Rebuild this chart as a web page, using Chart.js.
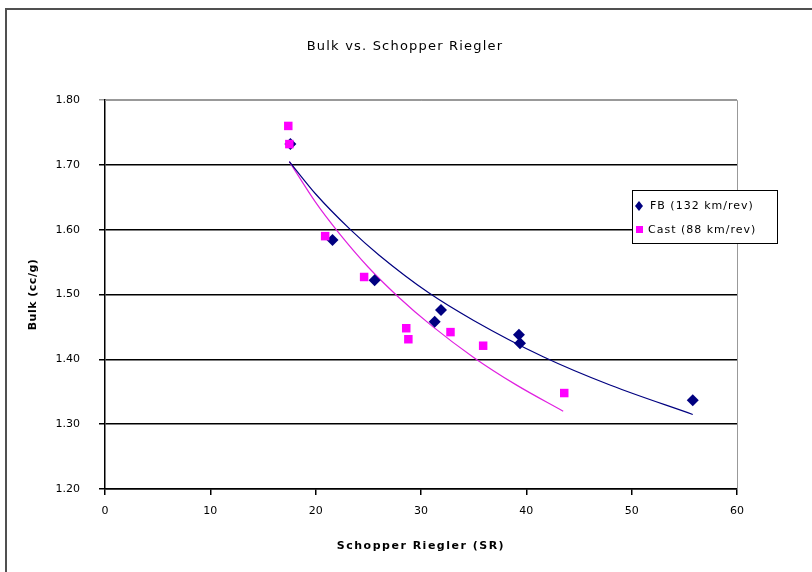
<!DOCTYPE html>
<html lang="en">
  <head>
    <meta charset="UTF-8" />
    <title>Bulk vs. Schopper Riegler</title>
    <script src="https://cdn.jsdelivr.net/npm/chart.js"></script>
    <style>
      html, body { margin: 0; padding: 0; background: #fff; }
      #wrap { width: 812px; height: 572px; }
    </style>
  </head>
  <body>
    <div id="wrap"><canvas id="bulkChart" width="812" height="572"></canvas></div>

    <script>
      // values
      const fbSR = [17.6, 21.6, 25.6, 31.3, 31.9, 39.3, 39.4, 55.8];
      const fbBulk = [1.732, 1.584, 1.522, 1.458, 1.476, 1.438, 1.425, 1.337];

      const castSR = [17.4, 17.5, 20.9, 24.6, 28.6, 28.8, 32.8, 35.9, 43.6];
      const castBulk = [1.76, 1.732, 1.59, 1.527, 1.448, 1.431, 1.442, 1.421, 1.348];

      // trend lines
      const fbTrendSR = [17.5, 20, 23.3, 26, 30.7, 35, 41.6, 48, 55.8];
      const fbTrendBulk = [1.705, 1.655, 1.6, 1.561, 1.503, 1.46, 1.404, 1.36, 1.315];
      const castTrendSR = [17.5, 20, 22.1, 25, 27.8, 31, 35, 39, 43.5];
      const castTrendBulk = [1.705, 1.642, 1.597, 1.542, 1.497, 1.452, 1.403, 1.361, 1.32];

      const seriesNames = ["FB (132 km/rev)", "Cast (88 km/rev)"];
      const yTicks = [1.2, 1.3, 1.4, 1.5, 1.6, 1.7, 1.8];

      const navy = "#000080";
      const magenta = "#ff00ff";
      const FONT = "'DejaVu Sans', sans-serif";

      const toPoints = (xs, ys) => xs.map((x, i) => ({ x: x, y: ys[i] }));

      function spacedText(ctx, text, x, y, font, spacing, align) {
        ctx.save();
        ctx.font = font;
        ctx.letterSpacing = spacing;
        ctx.fillStyle = "#000";
        ctx.textAlign = align || "center";
        ctx.textBaseline = "middle";
        ctx.fillText(text, x, y);
        ctx.restore();
      }

      const decor = {
        id: "decor",
        beforeDraw(chart) {
          const ctx = chart.ctx;
          ctx.save();
          ctx.strokeStyle = "#505050";
          ctx.lineWidth = 2;
          ctx.strokeRect(6, 9, 1000, 1000);
          ctx.restore();
        },
        beforeDatasetsDraw(chart) {
          const { ctx, chartArea: a } = chart;
          ctx.save();
          ctx.strokeStyle = "#999";
          ctx.lineWidth = 1;
          ctx.beginPath();
          ctx.moveTo(a.left, a.top + 0.5);
          ctx.lineTo(a.right + 0.5, a.top + 0.5);
          ctx.lineTo(a.right + 0.5, a.bottom);
          ctx.stroke();
          ctx.restore();
        },
        afterDraw(chart) {
          const { ctx, chartArea: a } = chart;
          spacedText(ctx, "Bulk vs. Schopper Riegler", 405, 47, "13px " + FONT, "1.2px");
          spacedText(ctx, "Schopper Riegler (SR)", (a.left + a.right) / 2, 546, "bold 11px " + FONT, "1.5px");

          ctx.save();
          ctx.translate(33, (a.top + a.bottom) / 2);
          ctx.rotate(-Math.PI / 2);
          spacedText(ctx, "Bulk (cc/g)", 0, 0, "bold 11px " + FONT, "0.5px");
          ctx.restore();

          // legend
          const lx = 632, ly = 190, lw = 145, lh = 53;
          ctx.save();
          ctx.fillStyle = "#fff";
          ctx.fillRect(lx, ly, lw, lh);
          ctx.strokeStyle = "#000";
          ctx.lineWidth = 1;
          ctx.strokeRect(lx + 0.5, ly + 0.5, lw, lh);
          ctx.fillStyle = navy;
          ctx.beginPath();
          ctx.moveTo(lx + 7, ly + 11);
          ctx.lineTo(lx + 11, ly + 16);
          ctx.lineTo(lx + 7, ly + 21);
          ctx.lineTo(lx + 3, ly + 16);
          ctx.closePath();
          ctx.fill();
          ctx.fillStyle = magenta;
          ctx.fillRect(lx + 4, ly + 36, 7, 7);
          ctx.restore();
          spacedText(ctx, seriesNames[0], lx + 18, ly + 16, "11px " + FONT, "1px", "left");
          spacedText(ctx, seriesNames[1], lx + 16, ly + 40, "11px " + FONT, "1px", "left");
        },
      };

      const chart = new Chart(document.getElementById("bulkChart"), {
        type: "scatter",
        data: {
          datasets: [
            {
              label: seriesNames[1],
              data: toPoints(castSR, castBulk),
              pointStyle: "rect",
              pointRadius: 6,
              pointHoverRadius: 6,
              backgroundColor: magenta,
              borderColor: magenta,
              borderWidth: 0,
              order: 0,
            },
            {
              label: seriesNames[0],
              data: toPoints(fbSR, fbBulk),
              pointStyle: "rectRot",
              pointRadius: 6,
              pointHoverRadius: 6,
              backgroundColor: navy,
              borderColor: navy,
              borderWidth: 0,
              order: 1,
            },
            {
              label: "fb trend",
              data: toPoints(fbTrendSR, fbTrendBulk),
              showLine: true,
              pointRadius: 0,
              borderColor: navy,
              borderWidth: 1.2,
              cubicInterpolationMode: "monotone",
              order: 2,
            },
            {
              label: "cast trend",
              data: toPoints(castTrendSR, castTrendBulk),
              showLine: true,
              pointRadius: 0,
              borderColor: "#e020e0",
              borderWidth: 1.2,
              cubicInterpolationMode: "monotone",
              order: 3,
            },
          ],
        },
        options: {
          responsive: false,
          animation: false,
          layout: { padding: { top: 100, right: 75, left: 0, bottom: 0 } },
          plugins: {
            legend: { display: false },
            title: { display: false },
            tooltip: { enabled: false },
          },
          scales: {
            x: {
              type: "linear",
              min: 0,
              max: 60,
              afterFit: (s) => { s.height = 83; },
              ticks: {
                stepSize: 10,
                padding: 10,
                color: "#000",
                font: { family: FONT, size: 11 },
              },
              grid: {
                drawOnChartArea: false,
                tickLength: 6,
                color: "#000",
                lineWidth: 1.5,
              },
              border: { color: "#000", width: 1.5 },
            },
            y: {
              type: "linear",
              min: 1.2,
              max: 1.8,
              afterFit: (s) => { s.width = 105; },
              afterBuildTicks: (s) => { s.ticks = yTicks.map((v) => ({ value: v })); },
              ticks: {
                padding: 19,
                color: "#000",
                font: { family: FONT, size: 11 },
                callback: (v) => v.toFixed(2),
              },
              grid: {
                tickLength: 6,
                color: (c) => (c.tick && c.tick.value === 1.8 ? "#999" : "#000"),
                lineWidth: 1.5,
              },
              border: { color: "#000", width: 1.5 },
            },
          },
        },
        plugins: [decor],
      });
    </script>
  </body>
</html>
